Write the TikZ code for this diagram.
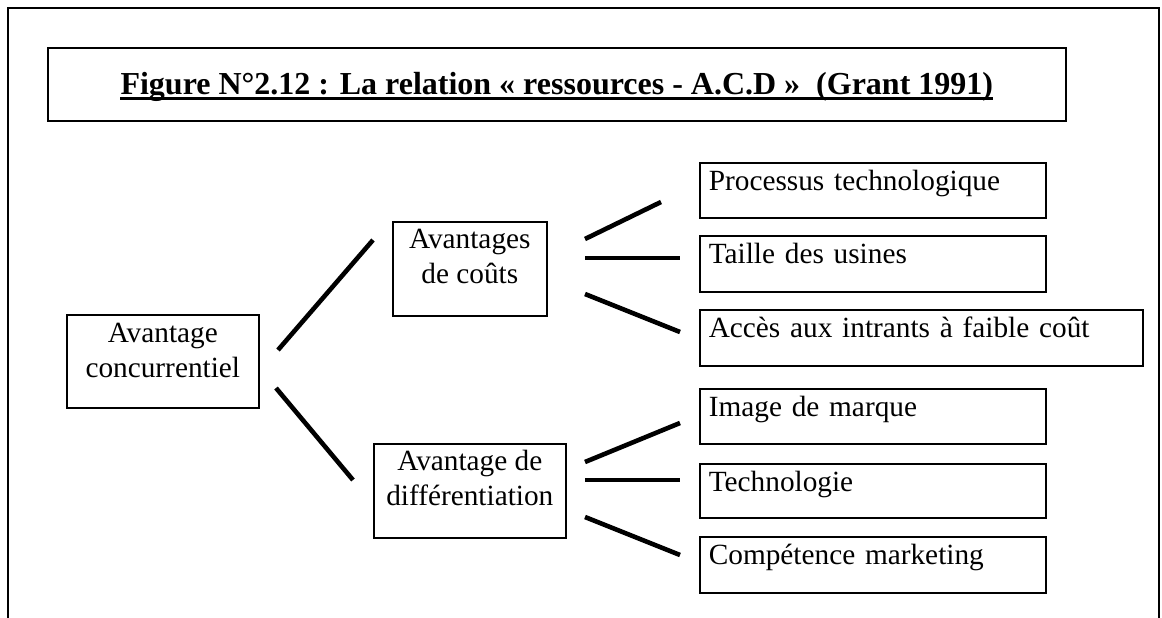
\documentclass[tikz,border=0pt]{standalone}
\usepackage{fontspec}
\setmainfont{Liberation Serif}
\begin{document}
\begin{tikzpicture}[x=1pt,y=-1pt,
  box/.style={draw, line width=1.6pt, inner sep=0pt, anchor=north west,
    font=\fontsize{29.3}{35}\selectfont},
  lbox/.style={box, inner xsep=9pt, inner ysep=0pt, align=left, text height=28pt},
  cbox/.style={box, align=center},
  conn/.style={line width=4.6pt},
  frame/.style={line width=1.8pt}]
\useasboundingbox (0,0) rectangle (1162,618);
% outer frame
\draw[frame] (8,620) -- (8,8) -- (1159,8) -- (1159,620);
% title
\node[draw, line width=1.6pt, inner sep=0pt, anchor=north west,
  minimum width=1018pt, minimum height=73pt] (tbox) at (47,47) {};
\node[anchor=base, inner sep=0pt, font=\fontsize{32}{38}\selectfont\bfseries]
  (ttl) at ([yshift=-47pt]tbox.north)
  {Figure N°2.12 : La relation « ressources - A.C.D »\ \ (Grant 1991)};
\draw[line width=3pt] ([yshift=-4.3pt]ttl.base west) -- ([yshift=-4.3pt]ttl.base east);
% main boxes
\node[cbox, minimum width=192pt, text height=28pt, text depth=65pt] (c) at (66,314)
  {\begin{tabular}[t]{@{}c@{}}Avantage\\concurrentiel\end{tabular}};
\node[cbox, minimum width=154pt, text height=27pt, text depth=67pt] (a) at (392,221)
  {\begin{tabular}[t]{@{}c@{}}Avantages\\de coûts\end{tabular}};
\node[cbox, minimum width=192pt, text height=27pt, text depth=67pt] (d) at (373,443)
  {\begin{tabular}[t]{@{}c@{}}Avantage de\\différentiation\end{tabular}};
% right boxes
\node[lbox, text width=328pt, text depth=27pt] (p1) at (699,162) {Processus technologique};
\node[lbox, text width=328pt, text depth=28pt] (p2) at (699,235) {Taille des usines};
\node[lbox, text width=425pt, text depth=28pt] (p3) at (699,309) {Accès aux intrants à faible coût};
\node[lbox, text width=328pt, text depth=27pt] (p4) at (699,388) {Image de marque};
\node[lbox, text width=328pt, text depth=26pt] (p5) at (699,463) {Technologie};
\node[lbox, text width=328pt, text depth=28pt] (p6) at (699,536) {Compétence marketing};
% connector end points
\coordinate (ca1) at (278,350); \coordinate (ca2) at (373,240);
\coordinate (cd1) at (276,388); \coordinate (cd2) at (353,480);
\coordinate (a11) at (585,239); \coordinate (a12) at (661,202);
\coordinate (a21) at (585,258); \coordinate (a22) at (680,258);
\coordinate (a31) at (585,294); \coordinate (a32) at (680,332);
\coordinate (d41) at (585,462); \coordinate (d42) at (680,423);
\coordinate (d51) at (585,480); \coordinate (d52) at (680,480);
\coordinate (d61) at (585,517); \coordinate (d62) at (680,555);
\draw[conn] (ca1) -- (ca2);
\draw[conn] (cd1) -- (cd2);
\draw[conn] (a11) -- (a12);
\draw[conn] (a21) -- (a22);
\draw[conn] (a31) -- (a32);
\draw[conn] (d41) -- (d42);
\draw[conn] (d51) -- (d52);
\draw[conn] (d61) -- (d62);
\end{tikzpicture}
\end{document}
